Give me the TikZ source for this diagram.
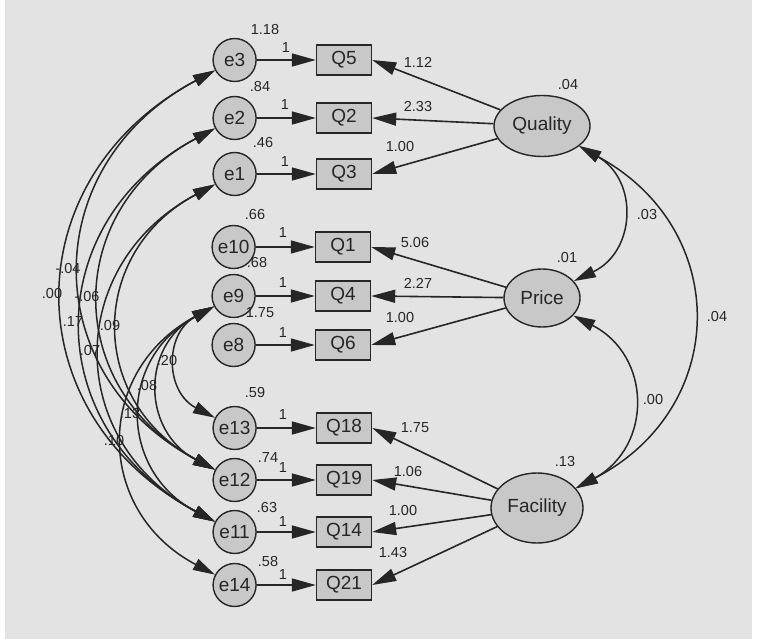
\documentclass[tikz,border=0pt]{standalone}
\usepackage{fontspec}
\setmainfont{Liberation Sans}
\usetikzlibrary{shapes.geometric,arrows.meta,positioning}
\definecolor{ink}{HTML}{262626}
\definecolor{paper}{HTML}{E3E3E3}
\definecolor{shade}{HTML}{C8C8C8}

\begin{document}
\begin{tikzpicture}[
  x=1pt, y=-1pt,
  every node/.style={text=ink},
  err/.style={circle, draw=ink, line width=1.4pt, fill=shade, minimum size=43pt,
              inner sep=1pt, font=\fontsize{19}{21}\selectfont},
  obs/.style={rectangle, draw=ink, line width=1.4pt, fill=shade, minimum width=55pt,
              minimum height=30pt, inner sep=1pt, font=\fontsize{19}{21}\selectfont},
  lat/.style={ellipse, draw=ink, line width=1.4pt, fill=shade, inner sep=1pt,
              font=\fontsize{19}{21}\selectfont},
  num/.style={inner sep=0pt, font=\fontsize{14.5}{16}\selectfont},
  ar/.style={-{Triangle[length=24pt, width=13pt]}, line width=1.6pt, draw=ink},
  cov/.style={{Triangle[length=22pt, width=12pt]}-{Triangle[length=22pt, width=12pt]},
              line width=1.5pt, draw=ink, bend right=62, looseness=1.3}
]
\useasboundingbox (0,0) rectangle (758,639);
\fill[white] (0,0) rectangle (758,639);
\fill[paper] (5,0) rectangle (752,639);

\node[obs] (q5)  at (344,60)  {Q5};
\node[obs] (q2)  at (344,118) {Q2};
\node[obs] (q3)  at (344,174) {Q3};
\node[obs] (q1)  at (343,247) {Q1};
\node[obs] (q4)  at (343,296) {Q4};
\node[obs] (q6)  at (343,345) {Q6};
\node[obs] (q18) at (344,428) {Q18};
\node[obs] (q19) at (344,480) {Q19};
\node[obs] (q14) at (344,532) {Q14};
\node[obs] (q21) at (344,585) {Q21};

\node[err, left=59pt of q5]  (e3)  {e3};
\node[err, left=59pt of q2]  (e2)  {e2};
\node[err, left=59pt of q3]  (e1)  {e1};
\node[err, left=59pt of q1]  (e10) {e10};
\node[err, left=59pt of q4]  (e9)  {e9};
\node[err, left=59pt of q6]  (e8)  {e8};
\node[err, left=59pt of q18] (e13) {e13};
\node[err, left=59pt of q19] (e12) {e12};
\node[err, left=59pt of q14] (e11) {e11};
\node[err, left=59pt of q21] (e14) {e14};

\node[lat, minimum width=96pt, minimum height=61pt] (qual)  at (542,126) {Quality};
\node[lat, minimum width=76pt, minimum height=58pt] (price) at (542,298) {Price};
\node[lat, minimum width=92pt, minimum height=70pt] (fac)   at (537,508) {Facility};

\draw[ar] (e3) -- (q5);
\draw[ar] (e2) -- (q2);
\draw[ar] (e1) -- (q3);
\draw[ar] (e10) -- (q1);
\draw[ar] (e9) -- (q4);
\draw[ar] (e8) -- (q6);
\draw[ar] (e13) -- (q18);
\draw[ar] (e12) -- (q19);
\draw[ar] (e11) -- (q14);
\draw[ar] (e14) -- (q21);

\draw[ar] (qual) -- (q5.east);
\draw[ar] (qual) -- (q2.east);
\draw[ar] (qual) -- (q3.east);
\draw[ar] (price) -- (q1.east);
\draw[ar] (price) -- (q4.east);
\draw[ar] (price) -- (q6.east);
\draw[ar] (fac) -- (q18.east);
\draw[ar] (fac) -- (q19.east);
\draw[ar] (fac) -- (q14.east);
\draw[ar] (fac) -- (q21.east);

\draw[cov] (e3) to (e12);
\draw[cov] (e3) to (e11);
\draw[cov] (e2) to (e12);
\draw[cov] (e2) to (e11);
\draw[cov] (e1) to (e12);
\draw[cov] (e1) to (e11);
\draw[cov] (e9) to (e13);
\draw[cov] (e9) to (e12);
\draw[cov] (e9) to (e11);
\draw[cov] (e9) to (e14);
\draw[cov] (price) to (qual);
\draw[cov] (fac) to (price);
\draw[cov] (fac) to (qual);

\node[num] (c1)  at (68,269)  {-.04};
\node[num] (c2)  at (52,294)  {.00};
\node[num] (c3)  at (87,297)  {-.06};
\node[num] (c4)  at (73,322)  {.17};
\node[num] (c5)  at (110,326) {.09};
\node[num] (c6)  at (90,351)  {.07};
\node[num] (c7)  at (167,361) {.20};
\node[num] (c8)  at (147,386) {.08};
\node[num] (c9)  at (130,414) {.13};
\node[num] (c10) at (114,441) {.10};
\node[num] (c11) at (647,215) {.03};
\node[num] (c12) at (653,400) {.00};
\node[num] (c13) at (717,317) {.04};

\node[num] (w5)  at (418,62)  {1.12};
\node[num] (w2)  at (418,107) {2.33};
\node[num] (w3)  at (400,147) {1.00};
\node[num] (w1)  at (415,243) {5.06};
\node[num] (w4)  at (418,283) {2.27};
\node[num] (w6)  at (400,318) {1.00};
\node[num] (w18) at (415,428) {1.75};
\node[num] (w19) at (408,472) {1.06};
\node[num] (w14) at (403,511) {1.00};
\node[num] (w21) at (393,553) {1.43};

\node[num] (v3)  at (265,30)  {1.18};
\node[num] (v2)  at (260,87)  {.84};
\node[num] (v1)  at (263,143) {.46};
\node[num] (v10) at (255,215) {.66};
\node[num] (v9)  at (257,263) {.68};
\node[num] (v8)  at (260,313) {1.75};
\node[num] (v13) at (255,393) {.59};
\node[num] (v12) at (268,458) {.74};
\node[num] (v11) at (267,508) {.63};
\node[num] (v14) at (268,562) {.58};
\node[num] (vq)  at (568,85)  {.04};
\node[num] (vp)  at (567,258) {.01};
\node[num] (vf)  at (565,462) {.13};

\node[num] (f3)  at (286,48)  {1};
\node[num] (f2)  at (285,105) {1};
\node[num] (f1)  at (285,162) {1};
\node[num] (f10) at (283,233) {1};
\node[num] (f9)  at (283,283) {1};
\node[num] (f8)  at (283,333) {1};
\node[num] (f13) at (283,415) {1};
\node[num] (f12) at (283,468) {1};
\node[num] (f11) at (283,522) {1};
\node[num] (f14) at (283,575) {1};
\end{tikzpicture}
\end{document}
